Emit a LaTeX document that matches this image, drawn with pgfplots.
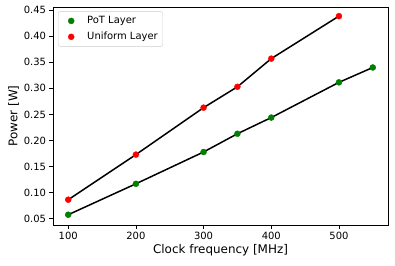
\documentclass[border=0pt]{standalone}
\usepackage{pgfplots}
\pgfplotsset{compat=1.18}
\usepackage{fontspec}
\setmainfont{DejaVu Sans}
\definecolor{mplgreen}{RGB}{0,128,0}
\definecolor{mplred}{RGB}{255,0,0}
\begin{document}
\begin{tikzpicture}
\begin{axis}[
  scale only axis,
  width=335bp, height=218bp,
  xmin=77.5, xmax=572.5,
  ymin=0.038, ymax=0.456,
  xtick={100,200,300,400,500},
  ytick={0.05,0.10,0.15,0.20,0.25,0.30,0.35,0.40,0.45},
  yticklabel style={/pgf/number format/.cd,fixed,fixed zerofill,precision=2},
  /pgf/number format/assume math mode=true,
  tick align=outside,
  major tick length=3.5bp,
  tick style={black, line width=0.8bp},
  axis line style={black, line width=0.8bp},
  ticklabel style={font=\fontsize{10}{12}\selectfont},
  xtick pos=bottom, ytick pos=left,
  xlabel={Clock frequency [MHz]},
  ylabel={Power [W]},
  label style={font=\fontsize{12}{14}\selectfont},
  xlabel style={yshift=2bp},
  ylabel style={yshift=-2bp},
  legend style={at={(0.015,0.98)}, anchor=north west, draw=black!20, rounded corners=2bp,
    font=\fontsize{10}{12}\selectfont, row sep=3bp, inner xsep=3bp, inner ysep=3bp,
    /tikz/every odd column/.style={column sep=4bp}},
  legend cell align=left,
  legend image code/.code={\path[draw=none,fill=none] (0bp,-3bp) (20bp,3bp); \draw[#1] plot coordinates {(10bp,0bp)};},
]
\addplot[black, line width=1.5bp, forget plot] coordinates {
(100,0.0577) (200,0.117) (300,0.178) (350,0.213) (400,0.244) (500,0.3115) (550,0.340)};
\addplot[black, line width=1.5bp, forget plot] coordinates {
(100,0.0865) (200,0.173) (300,0.263) (350,0.303) (400,0.357) (500,0.4385)};
\addplot[only marks, mark=*, mark size=3bp, color=mplgreen] coordinates {
(100,0.0577) (200,0.117) (300,0.178) (350,0.213) (400,0.244) (500,0.3115) (550,0.340)};
\addlegendentry{PoT Layer}
\addplot[only marks, mark=*, mark size=3bp, color=mplred] coordinates {
(100,0.0865) (200,0.173) (300,0.263) (350,0.303) (400,0.357) (500,0.4385)};
\addlegendentry{Uniform Layer}
\end{axis}
\pgfresetboundingbox
\path (current axis.south west) ++(-53bp,-41bp) rectangle ++(395bp,266bp);
\end{tikzpicture}
\end{document}
